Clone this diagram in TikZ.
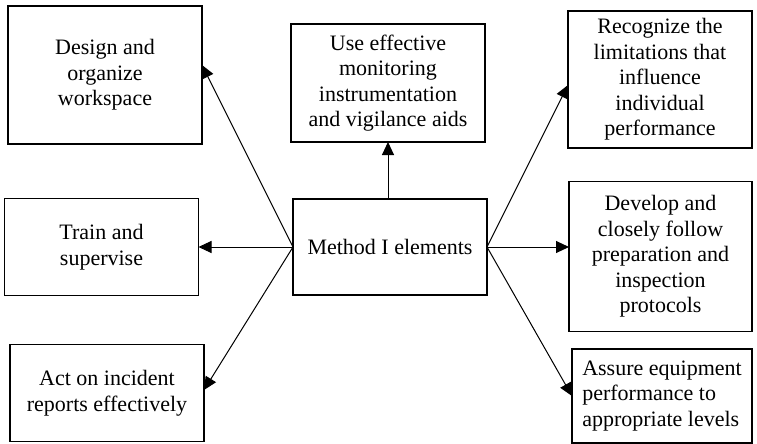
\documentclass[tikz,border=0pt]{standalone}
\usepackage{fontspec}
\setmainfont{Liberation Serif}
\usetikzlibrary{arrows.meta}

\begin{document}
\begin{tikzpicture}[x=1pt,y=-1pt,
  box/.style={draw, line width=1.3pt, inner sep=2pt, outer sep=0pt, align=center,
              font=\fontsize{22}{25.5}\selectfont},
  arr/.style={line width=1pt, -{Triangle[length=13pt,width=12pt]}}]
\useasboundingbox (0,0) rectangle (757,444);

% left column
\node[box, minimum width=194pt, minimum height=138pt] (design) at (105,75)
  {Design and\\organize\\workspace};
\node[box, minimum width=194pt, minimum height=97pt] (train) at (101.5,247)
  {Train and\\supervise};
\node[box, minimum width=194pt, minimum height=97pt] (incident) at (107,393)
  {Act on incident\\reports effectively};

% centre column
\node[box, minimum width=194pt, minimum height=118pt] (monitor) at (388,83)
  {Use effective\\monitoring\\instrumentation\\and vigilance aids};
\node[box, minimum width=194pt, minimum height=96pt] (method) at (390,247)
  {Method I elements};

% right column
\node[box, minimum width=184pt, minimum height=137pt] (limits) at (660,79.5)
  {Recognize the\\limitations that\\influence\\individual\\performance};
\node[box, minimum width=183pt, minimum height=150pt] (protocol) at (660.5,256.5)
  {Develop and\\closely follow\\preparation and\\inspection\\protocols};
\node[box, minimum width=180pt, minimum height=94pt, align=left] (equip) at (662,396)
  {Assure equipment\\performance to\\appropriate levels};

% connectors
\draw[arr] (method.west) -- ([yshift=10pt]design.east);
\draw[arr] (method.west) -- (train.east);
\draw[arr] (method.west) -- ([yshift=3pt]incident.east);
\draw[arr] (monitor.south |- method.north) -- (monitor.south);
\draw[arr] (method.east) -- ([yshift=-5.5pt]limits.west);
\draw[arr] (method.east) -- (method.east -| protocol.west);
\draw[arr] (method.east) -- (equip.west);
\end{tikzpicture}
\end{document}
